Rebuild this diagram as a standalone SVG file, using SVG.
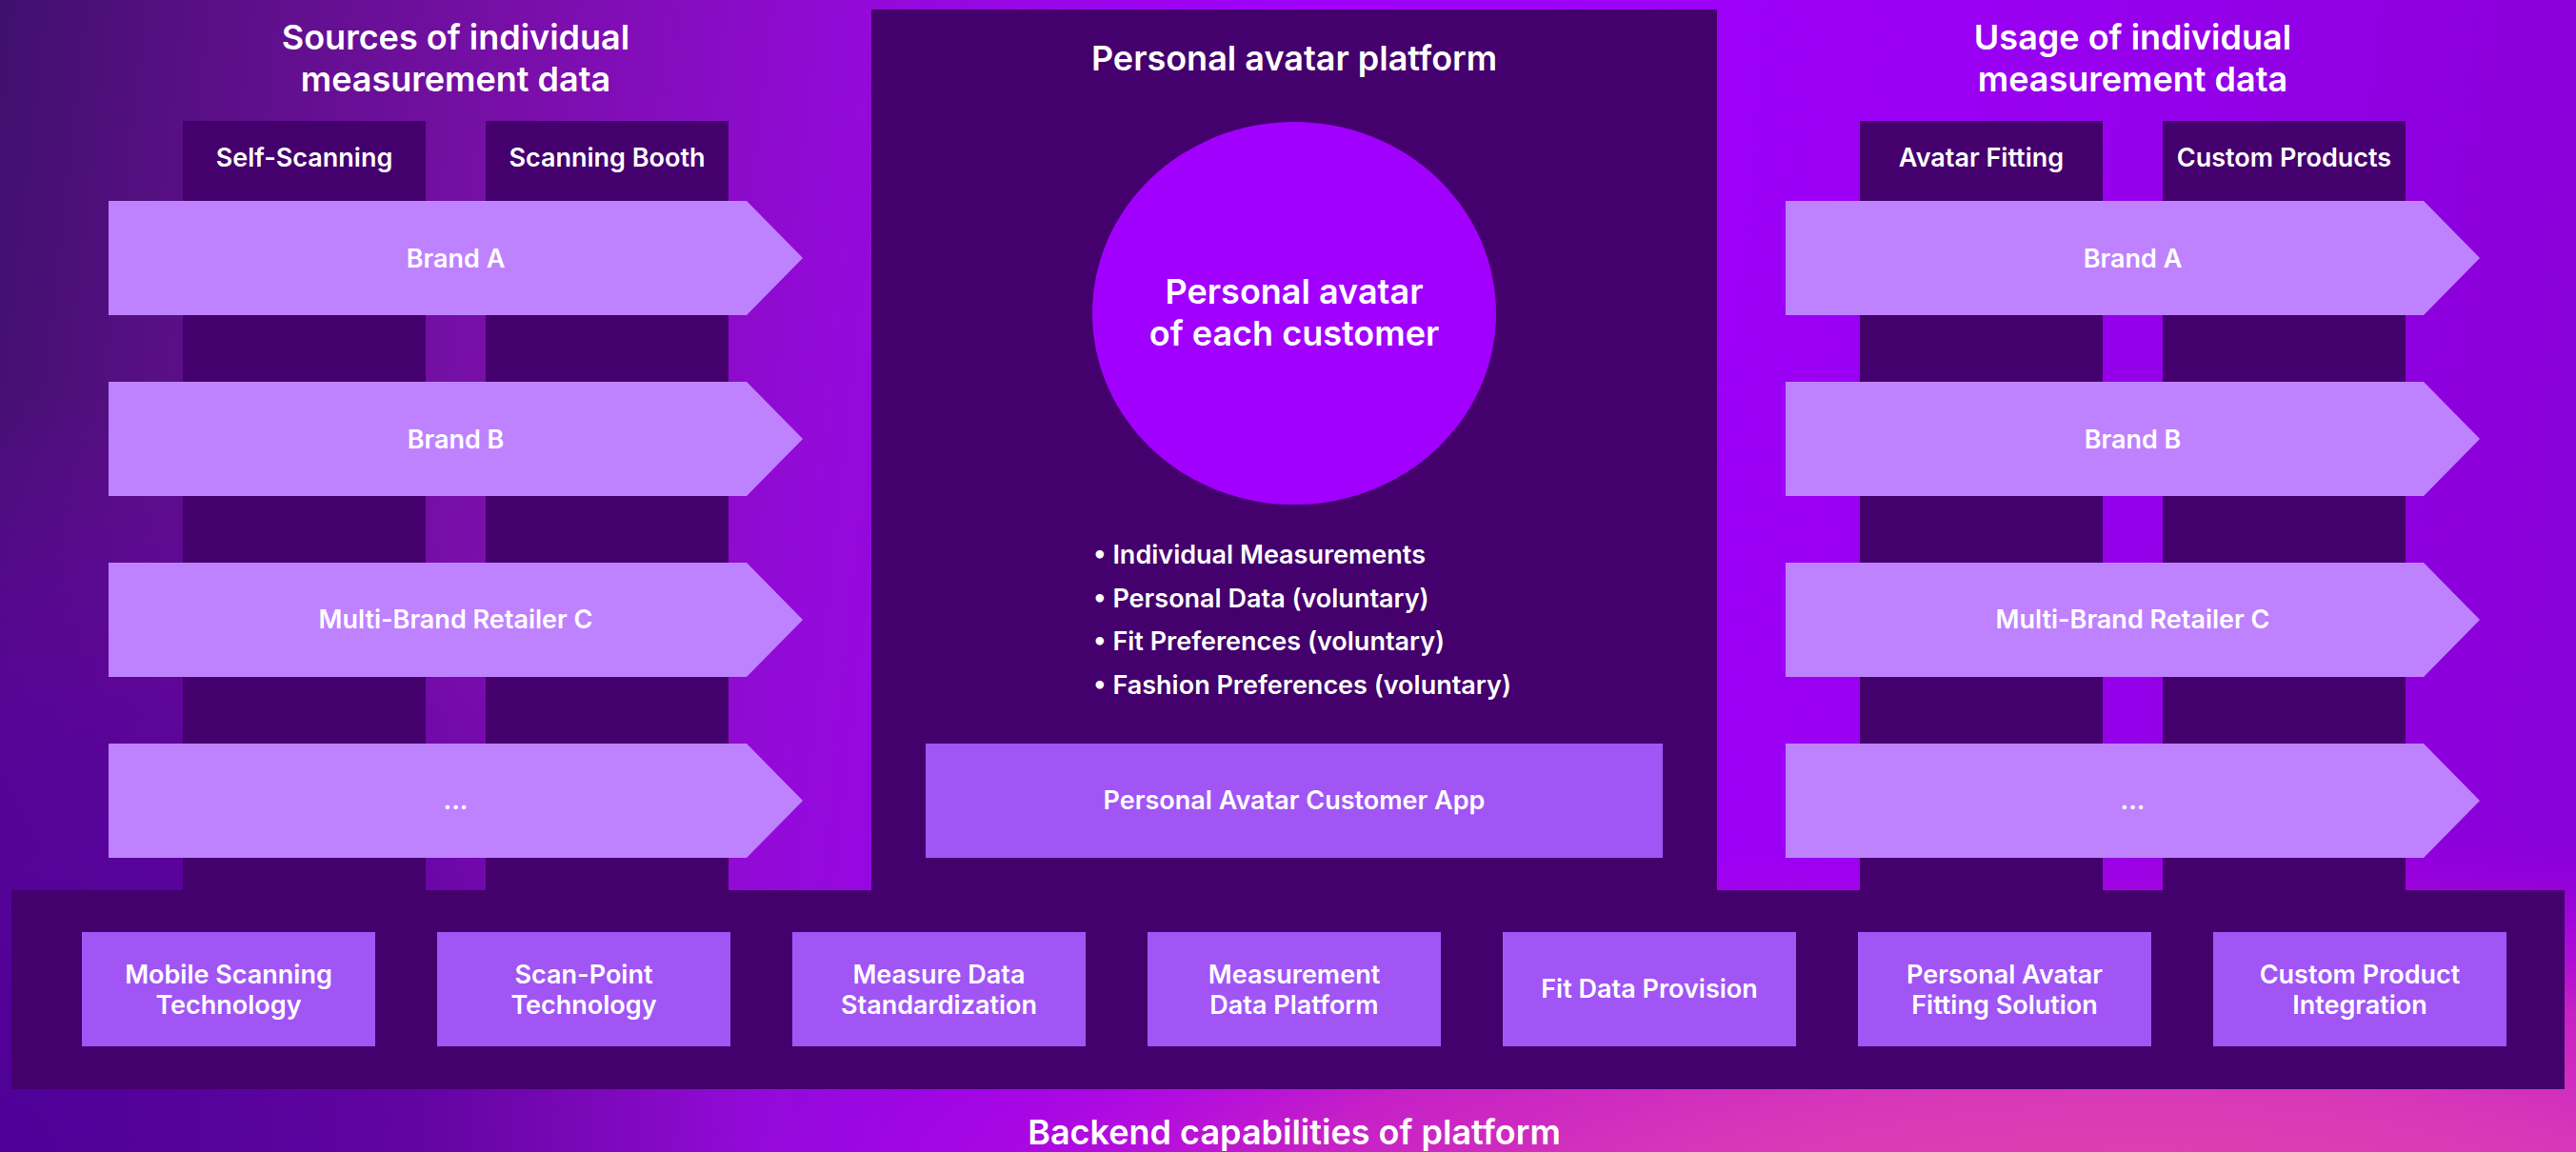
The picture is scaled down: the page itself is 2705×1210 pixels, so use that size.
<svg xmlns="http://www.w3.org/2000/svg" width="2705" height="1210" viewBox="0 0 2705 1210">
<style>
text{font-family:"Inter","Liberation Sans",sans-serif;font-weight:600;fill:#fff;text-anchor:middle}
.h{font-size:36px}.m{font-size:27px}.l{text-anchor:start}
.dark{fill:#44006c}.arrow{fill:#bf82ff}.box{fill:#a155f5}
</style>
<defs>
<linearGradient id="base" gradientUnits="userSpaceOnUse" x1="0" y1="0" x2="2705" y2="300">
<stop offset="0" stop-color="#40106e"/><stop offset=".07" stop-color="#560f82"/><stop offset=".2" stop-color="#780fa8"/><stop offset=".33" stop-color="#930ad8"/><stop offset=".5" stop-color="#a000fb"/><stop offset=".75" stop-color="#9a00f4"/><stop offset="1" stop-color="#8a00d8"/>
</linearGradient>
<radialGradient id="bl" gradientUnits="userSpaceOnUse" cx="0" cy="0" r="1" gradientTransform="translate(0 1210) scale(800 800)">
<stop offset="0" stop-color="#4e0098" stop-opacity="1"/><stop offset=".55" stop-color="#5a00a0" stop-opacity=".75"/><stop offset="1" stop-color="#7000b0" stop-opacity="0"/>
</radialGradient>
<radialGradient id="pk" gradientUnits="userSpaceOnUse" cx="0" cy="0" r="1" gradientTransform="translate(2250 1290) scale(1500 420)">
<stop offset="0" stop-color="#e248a8"/><stop offset=".35" stop-color="#d838b8"/><stop offset=".62" stop-color="#c822c4" stop-opacity=".95"/><stop offset=".8" stop-color="#b60cd8" stop-opacity=".6"/><stop offset="1" stop-color="#a800e0" stop-opacity="0"/>
</radialGradient>
</defs>
<g id="background">
<rect width="2705" height="1210" fill="url(#base)"/>
<rect width="2705" height="1210" fill="url(#bl)"/>
<rect width="2705" height="1210" fill="url(#pk)"/>
</g>
<g id="connectors"></g>
<g id="sources">
<text class="h" x="478.5" y="52">Sources of individual</text>
<text class="h" x="478.5" y="96">measurement data</text>
<g id="self-scanning"><rect class="dark" x="192" y="127" width="255" height="808"/><text class="m" x="319.5" y="175">Self-Scanning</text></g>
<g id="scanning-booth"><rect class="dark" x="510" y="127" width="255" height="808"/><text class="m" x="637.5" y="175">Scanning Booth</text></g>
<g id="src-brand-a"><polygon class="arrow" points="114,211 784,211 843,271 784,331 114,331"/><text class="m" x="478.5" y="281">Brand A</text></g>
<g id="src-brand-b"><polygon class="arrow" points="114,401 784,401 843,461 784,521 114,521"/><text class="m" x="478.5" y="471">Brand B</text></g>
<g id="src-retailer-c"><polygon class="arrow" points="114,591 784,591 843,651 784,711 114,711"/><text class="m" x="478.5" y="660">Multi-Brand Retailer C</text></g>
<g id="src-more"><polygon class="arrow" points="114,781 784,781 843,841 784,901 114,901"/><text class="m" x="478.5" y="850">...</text></g>
</g>
<g id="platform">
<rect class="dark" x="915" y="10" width="888" height="925"/>
<text class="h" x="1359" y="74">Personal avatar platform</text>
<g id="avatar"><ellipse cx="1359" cy="329" rx="212" ry="201" fill="#a100ff"/><text class="h" x="1359" y="319">Personal avatar</text><text class="h" x="1359" y="363">of each customer</text></g>
<g id="attributes">
<text class="m l" x="1148" y="592">• Individual Measurements</text>
<text class="m l" x="1148" y="638">• Personal Data (voluntary)</text>
<text class="m l" x="1148" y="683">• Fit Preferences (voluntary)</text>
<text class="m l" x="1148" y="729">• Fashion Preferences (voluntary)</text>
</g>
<g id="app"><rect class="box" x="972" y="781" width="774" height="120"/><text class="m" x="1359" y="850">Personal Avatar Customer App</text></g>
</g>
<g id="usage">
<text class="h" x="2239.5" y="52">Usage of individual</text>
<text class="h" x="2239.5" y="96">measurement data</text>
<g id="avatar-fitting"><rect class="dark" x="1953" y="127" width="255" height="808"/><text class="m" x="2080.5" y="175">Avatar Fitting</text></g>
<g id="custom-products"><rect class="dark" x="2271" y="127" width="255" height="808"/><text class="m" x="2398.5" y="175">Custom Products</text></g>
<g id="use-brand-a"><polygon class="arrow" points="1875,211 2545,211 2604,271 2545,331 1875,331"/><text class="m" x="2239.5" y="281">Brand A</text></g>
<g id="use-brand-b"><polygon class="arrow" points="1875,401 2545,401 2604,461 2545,521 1875,521"/><text class="m" x="2239.5" y="471">Brand B</text></g>
<g id="use-retailer-c"><polygon class="arrow" points="1875,591 2545,591 2604,651 2545,711 1875,711"/><text class="m" x="2239.5" y="660">Multi-Brand Retailer C</text></g>
<g id="use-more"><polygon class="arrow" points="1875,781 2545,781 2604,841 2545,901 1875,901"/><text class="m" x="2239.5" y="850">...</text></g>
</g>
<g id="backend">
<rect class="dark" x="12" y="935" width="2681" height="209"/>
<g id="cap-1"><rect class="box" x="86" y="979" width="308" height="120"/><text class="m" x="240" y="1033">Mobile Scanning</text><text class="m" x="240" y="1065">Technology</text></g>
<g id="cap-2"><rect class="box" x="459" y="979" width="308" height="120"/><text class="m" x="613" y="1033">Scan-Point</text><text class="m" x="613" y="1065">Technology</text></g>
<g id="cap-3"><rect class="box" x="832" y="979" width="308" height="120"/><text class="m" x="986" y="1033">Measure Data</text><text class="m" x="986" y="1065">Standardization</text></g>
<g id="cap-4"><rect class="box" x="1205" y="979" width="308" height="120"/><text class="m" x="1359" y="1033">Measurement</text><text class="m" x="1359" y="1065">Data Platform</text></g>
<g id="cap-5"><rect class="box" x="1578" y="979" width="308" height="120"/><text class="m" x="1732" y="1048">Fit Data Provision</text></g>
<g id="cap-6"><rect class="box" x="1951" y="979" width="308" height="120"/><text class="m" x="2105" y="1033">Personal Avatar</text><text class="m" x="2105" y="1065">Fitting Solution</text></g>
<g id="cap-7"><rect class="box" x="2324" y="979" width="308" height="120"/><text class="m" x="2478" y="1033">Custom Product</text><text class="m" x="2478" y="1065">Integration</text></g>
<text class="h" x="1359" y="1202">Backend capabilities of platform</text>
</g>
</svg>
